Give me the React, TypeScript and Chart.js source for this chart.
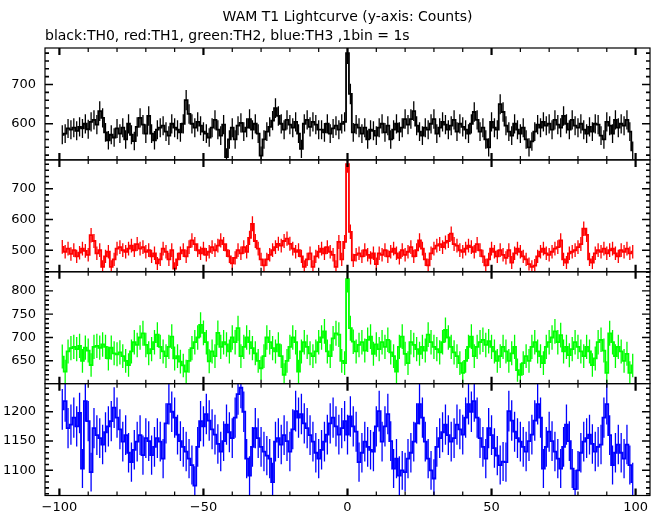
import React, { useEffect, useRef } from 'react';
import { Chart, registerables } from 'chart.js';

Chart.register(...registerables);

// Bin centres (seconds), 1 bin = 1 s
const TIME_S: number[] = Array.from({ length: 199 }, (_, i) => i - 99);

// TH0 (black) counts per bin
const TH0: number[] = [
  572, 575, 588, 585, 590, 582, 592, 588, 600, 586,
  605, 610, 598, 632, 615, 578, 558, 572, 565, 588,
  575, 590, 560, 600, 572, 556, 592, 615, 598, 575,
  620, 575, 558, 585, 590, 595, 580, 570, 600, 590,
  585, 578, 600, 660, 625, 600, 590, 605, 595, 580,
  575, 565, 590, 610, 585, 570, 598, 515, 560, 590,
  560, 595, 602, 580, 590, 612, 585, 600, 575, 519,
  560, 580, 592, 608, 640, 620, 600, 585, 610, 598,
  590, 605, 575, 536, 600, 610, 592, 605, 598, 585,
  585, 578, 600, 575, 588, 595, 585, 600, 605, 780,
  676, 578, 598, 590, 575, 590, 560, 585, 582, 570,
  590, 600, 578, 595, 560, 585, 600, 580, 590, 612,
  598, 612, 632, 595, 580, 570, 590, 585, 600, 612,
  575, 590, 605, 598, 585, 595, 610, 580, 600, 592,
  585, 575, 600, 630, 610, 580, 590, 560, 540, 605,
  590, 585, 650, 630, 595, 580, 570, 600, 585, 575,
  590, 560, 540, 555, 580, 598, 590, 605, 595, 600,
  585, 610, 598, 590, 620, 600, 585, 610, 595, 590,
  600, 585, 575, 592, 580, 600, 598, 570, 560, 605,
  595, 575, 610, 590, 600, 595, 610, 580, 532,
];

// TH1 (red)
const TH1: number[] = [
  511, 495, 505, 488, 500, 480, 492, 505, 498, 485,
  549, 530, 490, 500, 446, 480, 495, 446, 470, 505,
  510, 500, 495, 505, 515, 500, 520, 505, 510, 495,
  500, 480, 490, 457, 470, 505, 495, 470, 500, 440,
  470, 490, 500, 480, 510, 532, 520, 500, 490, 505,
  485, 495, 510, 500, 515, 532, 520, 500, 480, 457,
  475, 500, 490, 510, 495, 540, 586, 530, 505, 470,
  451, 470, 485, 500, 510, 521, 515, 530, 538, 521,
  505, 495, 500, 480, 446, 470, 490, 446, 480, 495,
  505, 490, 510, 495, 485, 446, 527, 470, 527, 780,
  560, 467, 485, 490, 480, 500, 485, 475, 490, 455,
  490, 485, 500, 480, 495, 505, 490, 475, 500, 485,
  495, 510, 480, 500, 532, 505, 470, 451, 490, 505,
  515, 520, 510, 525, 530, 554, 520, 515, 500, 495,
  505, 515, 510, 495, 520, 500, 480, 451, 470, 505,
  495, 480, 500, 485, 475, 500, 460, 490, 505, 495,
  480, 470, 455, 446, 450, 480, 495, 505, 490, 485,
  495, 505, 510, 532, 470, 460, 490, 495, 500, 510,
  520, 570, 550, 470, 460, 490, 500, 495, 505, 490,
  500, 505, 490, 480, 500, 495, 505, 490, 495,
];

// TH2 (green)
const TH2: number[] = [
  659, 627, 670, 677, 680, 675, 682, 650, 678, 672,
  641, 680, 682, 678, 685, 680, 655, 678, 666, 664,
  668, 660, 650, 641, 670, 690, 684, 700, 709, 684,
  666, 675, 690, 706, 680, 670, 660, 680, 702, 655,
  660, 648, 640, 627, 650, 677, 690, 700, 727, 710,
  690, 649, 670, 660, 710, 680, 690, 685, 670, 700,
  690, 720, 660, 680, 700, 690, 677, 666, 650, 634,
  660, 700, 690, 677, 670, 685, 660, 620, 650, 680,
  700, 690, 627, 670, 690, 680, 666, 660, 670, 690,
  700, 713, 670, 660, 698, 709, 706, 650, 645, 825,
  720, 691, 670, 684, 690, 672, 695, 702, 665, 685,
  675, 690, 680, 695, 668, 660, 627, 680, 702, 665,
  645, 690, 684, 675, 665, 680, 672, 706, 690, 680,
  675, 668, 690, 716, 700, 680, 668, 660, 645, 624,
  650, 680, 702, 660, 680, 690, 695, 684, 692, 680,
  670, 650, 660, 680, 670, 650, 666, 680, 630, 620,
  645, 660, 650, 680, 690, 670, 660, 645, 680, 690,
  700, 713, 690, 705, 670, 680, 662, 675, 690, 680,
  670, 660, 680, 670, 641, 655, 690, 695, 672, 624,
  709, 690, 660, 680, 670, 650, 665, 624, 640,
];

// TH3 (blue)
const TH3: number[] = [
  1204, 1218, 1172, 1178, 1190, 1175, 1198, 1103, 1218, 1184,
  1097, 1172, 1160, 1155, 1144, 1165, 1175, 1184, 1207, 1190,
  1170, 1149, 1160, 1130, 1114, 1135, 1149, 1160, 1126, 1155,
  1150, 1126, 1140, 1155, 1149, 1120, 1180, 1213, 1200, 1190,
  1161, 1150, 1140, 1132, 1120, 1109, 1074, 1140, 1184, 1175,
  1196, 1185, 1170, 1161, 1145, 1132, 1150, 1178, 1165, 1155,
  1190, 1230, 1241, 1200, 1120, 1091, 1140, 1172, 1155, 1140,
  1132, 1125, 1120, 1080, 1149, 1155, 1144, 1160, 1150, 1132,
  1170, 1201, 1190, 1196, 1180, 1172, 1160, 1149, 1130, 1120,
  1135, 1149, 1161, 1180, 1190, 1175, 1161, 1172, 1184, 1161,
  1192, 1175, 1166, 1114, 1130, 1149, 1140, 1135, 1132, 1175,
  1201, 1149, 1175, 1196, 1150, 1103, 1120, 1091, 1100, 1097,
  1120, 1130, 1149, 1180, 1213, 1190, 1149, 1120, 1100, 1086,
  1140, 1155, 1165, 1178, 1160, 1149, 1155, 1178, 1170, 1161,
  1190, 1213, 1200, 1218, 1190, 1155, 1140, 1120, 1172, 1160,
  1138, 1125, 1109, 1115, 1114, 1201, 1185, 1166, 1155, 1149,
  1140, 1132, 1150, 1161, 1185, 1213, 1190, 1103, 1140, 1166,
  1150, 1132, 1120, 1103, 1140, 1178, 1150, 1103, 1068, 1100,
  1130, 1149, 1155, 1161, 1145, 1132, 1140, 1144, 1190, 1213,
  1160, 1109, 1130, 1144, 1130, 1120, 1144, 1109, 1080,
];

const X_TICKS: number[] = [-100, -50, 0, 50, 100];

const FONT = { family: 'DejaVu Sans', size: 13 };
const TITLE_FONT = { family: 'DejaVu Sans', size: 14, weight: 'normal' };

const PANELS = [
  { id: 'y0', label: 'TH0', values: TH0, color: '#000000', min: 508, max: 793, major: 100, minor: 20, weight: 4 },
  { id: 'y1', label: 'TH1', values: TH1, color: '#ff0000', min: 430, max: 794, major: 100, minor: 20, weight: 3 },
  { id: 'y2', label: 'TH2', values: TH2, color: '#00ff00', min: 601, max: 841, major: 50, minor: 10, weight: 2 },
  { id: 'y3', label: 'TH3', values: TH3, color: '#0000ff', min: 1057, max: 1248, major: 50, minor: 10, weight: 1 },
];

const framePlugin = {
  id: 'panelFrame',
  afterDatasetsDraw(chart: any) {
    const ctx = chart.ctx as CanvasRenderingContext2D;
    const xs = chart.scales.x;
    const { left, right } = chart.chartArea;

    // error bars (Poisson, sqrt(N))
    chart.data.datasets.forEach((ds: any) => {
      const ys = chart.scales[ds.yAxisID];
      ctx.save();
      ctx.beginPath();
      ctx.rect(left, ys.top, right - left, ys.bottom - ys.top);
      ctx.clip();
      ctx.strokeStyle = ds.borderColor;
      ctx.lineWidth = 1.3;
      ctx.beginPath();
      ds.data.forEach((p: any) => {
        const px = xs.getPixelForValue(p.x);
        const e = Math.sqrt(p.y);
        ctx.moveTo(px, ys.getPixelForValue(p.y - e));
        ctx.lineTo(px, ys.getPixelForValue(p.y + e));
      });
      ctx.stroke();
      ctx.restore();
    });

    ctx.save();
    ctx.strokeStyle = '#000';
    PANELS.forEach((pn) => {
      const ys = chart.scales[pn.id];
      const top = ys.top;
      const bottom = ys.bottom;
      ctx.lineWidth = 1.2;
      ctx.strokeRect(left, top, right - left, bottom - top);
      for (let v = -100; v <= 100; v += 10) {
        const px = xs.getPixelForValue(v);
        const major = v % 50 === 0;
        const len = major ? 7 : 4;
        ctx.lineWidth = major ? 2.2 : 1.2;
        ctx.beginPath();
        ctx.moveTo(px, top);
        ctx.lineTo(px, top + len);
        ctx.moveTo(px, bottom);
        ctx.lineTo(px, bottom - len);
        ctx.stroke();
      }
      const start = Math.ceil(pn.min / pn.minor) * pn.minor;
      for (let v = start; v <= pn.max; v += pn.minor) {
        const py = ys.getPixelForValue(v);
        const major = v % pn.major === 0;
        const len = major ? 8 : 4;
        ctx.lineWidth = major ? 1.4 : 1.6;
        ctx.beginPath();
        ctx.moveTo(left, py);
        ctx.lineTo(left + len, py);
        ctx.moveTo(right, py);
        ctx.lineTo(right - len, py);
        ctx.stroke();
      }
    });
    ctx.restore();
  },
};

export default function App() {
  const ref = useRef<HTMLCanvasElement | null>(null);

  useEffect(() => {
    if (!ref.current) return;
    const scales: any = {
      x: {
        type: 'linear',
        position: 'bottom',
        min: -105,
        max: 105,
        afterBuildTicks: (s: any) => {
          s.ticks = X_TICKS.map((v) => ({ value: v }));
        },
        afterFit: (s: any) => {
          s.height = 19.5;
        },
        grid: { display: false, drawTicks: false },
        border: { display: false },
        ticks: {
          padding: 4,
          color: '#000',
          font: FONT,
          maxRotation: 0,
          autoSkip: false,
          callback: (v: any) => (Number(v) < 0 ? '\u2212' + Math.abs(Number(v)) : String(v)),
        },
      },
    };
    PANELS.forEach((pn) => {
      scales[pn.id] = {
        type: 'linear',
        position: 'left',
        stack: 'panels',
        stackWeight: 1,
        weight: pn.weight,
        min: pn.min,
        max: pn.max,
        afterFit: (s: any) => {
          s.width = 45;
        },
        grid: { display: false, drawTicks: false },
        border: { display: false },
        ticks: {
          stepSize: pn.major,
          includeBounds: false,
          padding: 9,
          color: '#000',
          font: FONT,
          autoSkip: false,
          callback: (v: any) => String(v),
        },
      };
    });

    const chart = new Chart(ref.current, {
      type: 'line',
      data: {
        datasets: PANELS.map((pn) => ({
          label: pn.label,
          yAxisID: pn.id,
          xAxisID: 'x',
          data: TIME_S.map((t, i) => ({ x: t, y: pn.values[i] })),
          borderColor: pn.color,
          backgroundColor: pn.color,
          borderWidth: 1.8,
          pointRadius: 0,
          stepped: 'middle',
          fill: false,
        })),
      },
      options: {
        responsive: false,
        animation: false,
        layout: { padding: { left: 0, right: 12, top: 0, bottom: 0 } },
        plugins: {
          legend: { display: false },
          tooltip: { enabled: false },
          title: {
            display: true,
            text: 'WAM T1 Lightcurve (y-axis: Counts)',
            color: '#000',
            font: TITLE_FONT,
            fullSize: false,
            align: 'center',
            padding: { top: 9, bottom: 2 },
          },
          subtitle: {
            display: true,
            text: 'black:TH0, red:TH1, green:TH2, blue:TH3 ,1bin = 1s',
            color: '#000',
            font: TITLE_FONT,
            fullSize: false,
            align: 'start',
            padding: { top: 0, bottom: 3.4 },
          },
        },
        scales,
      } as any,
      plugins: [framePlugin],
    });
    return () => chart.destroy();
  }, []);

  return (
    <div style={{ position: 'fixed', left: 0, top: 0, width: 662, height: 515, background: '#fff' }}>
      <canvas ref={ref} width={662} height={515} />
    </div>
  );
}
